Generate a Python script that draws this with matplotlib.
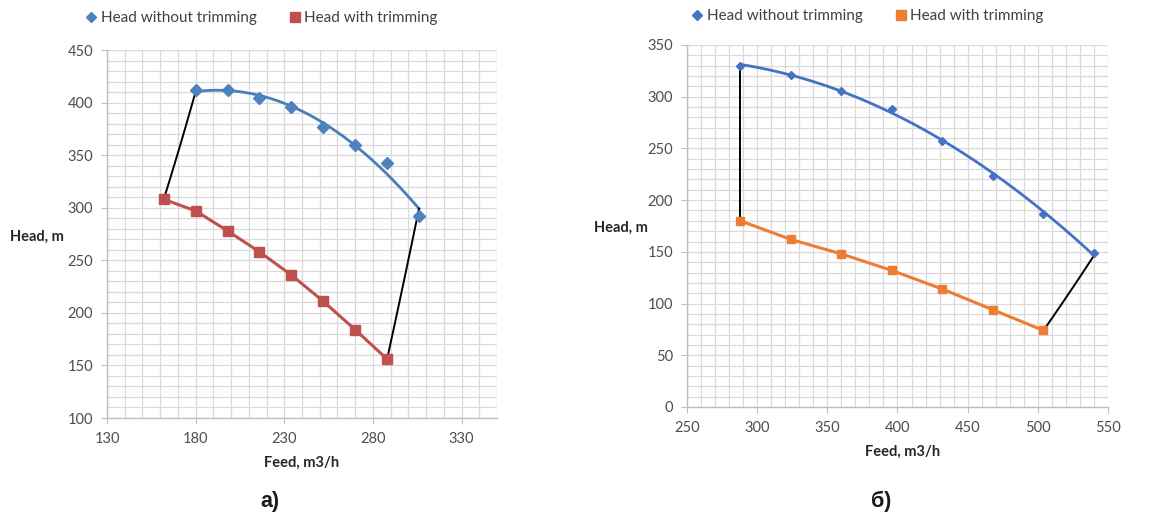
import numpy as np
import matplotlib
matplotlib.use("Agg")
import matplotlib.pyplot as plt
from matplotlib.ticker import MultipleLocator
from matplotlib.lines import Line2D

plt.rcParams['font.family'] = ['Lato', 'DejaVu Sans']

# ---- Panel a) data ----
a_feed_no_trim = [180, 198, 216, 234, 252, 270, 288, 306]
a_head_no_trim = [412, 412, 404, 396, 377, 360, 343, 292]
a_feed_trim = [162, 180, 198, 216, 234, 252, 270, 288]
a_head_trim = [308, 297, 278, 258, 236, 211, 184, 156]

# ---- Panel б) data ----
b_feed_no_trim = [288, 324, 360, 396, 432, 468, 504, 540]
b_head_no_trim = [330, 321, 306, 288, 257, 223, 187, 149]
b_feed_trim = [288, 324, 360, 396, 432, 468, 504]
b_head_trim = [180, 162, 148, 132, 114, 94, 74]

legend_labels = ["Head without trimming", "Head with trimming"]
x_label = "Feed, m3/h"
y_label = "Head, m"
panel_labels = ["а)", "б)"]

W, H = 1153, 513
fig = plt.figure(figsize=(W / 100, H / 100), dpi=100)

TICK_C = "#4D4D4D"
GRID_C = "#D9D9D9"


def connect(ax, q1, h1, q2, h2):
    if abs(q2 - q1) < 1e-9:
        ax.plot([q1, q2], [h1, h2], color="black", lw=1.4, zorder=3)
        return
    a = (h2 - h1) / (q2 ** 2 - q1 ** 2)
    b = h1 - a * q1 ** 2
    q = np.linspace(q1, q2, 50)
    ax.plot(q, a * q ** 2 + b, color="black", lw=1.4, zorder=3)


def panel(rect, fx, fy, tx, ty, xlim, ylim, xmaj, ymaj,
          c_no, c_tr, line_no, ms_d, ms_s):
    ax = fig.add_axes(rect)
    ax.set_xlim(*xlim)
    ax.set_ylim(*ylim)
    ax.xaxis.set_major_locator(MultipleLocator(xmaj))
    ax.yaxis.set_major_locator(MultipleLocator(ymaj))
    ax.xaxis.set_minor_locator(MultipleLocator(10))
    ax.yaxis.set_minor_locator(MultipleLocator(10))
    ax.grid(which="both", color=GRID_C, lw=0.9, zorder=0)
    ax.set_axisbelow(True)
    for s in ["top", "right"]:
        ax.spines[s].set_visible(False)
    for s in ["left", "bottom"]:
        ax.spines[s].set_color("#BFBFBF")
        ax.spines[s].set_linewidth(1.0)
    ax.tick_params(which="major", length=4, color="#BFBFBF", labelcolor=TICK_C,
                   labelsize=10.5, pad=6)
    ax.tick_params(which="minor", length=0)

    # trendline (2nd order polynomial) for the no-trimming series
    coef = np.polyfit(fx, fy, 2)
    qq = np.linspace(fx[0], fx[-1], 200)
    ax.plot(qq, np.polyval(coef, qq), color=line_no, lw=2.0, zorder=2)
    ax.plot(fx, fy, ls="none", marker="D", ms=ms_d, color=c_no, zorder=4)

    # trimmed series
    ax.plot(tx, ty, color=c_tr, lw=2.2, marker="s", ms=ms_s, zorder=4)

    # connecting curves
    connect(ax, tx[0], ty[0], fx[0], np.polyval(coef, fx[0]))
    connect(ax, tx[-1], ty[-1], fx[-1], np.polyval(coef, fx[-1]))
    return ax


axA = panel([107 / W, 1 - 418 / H, 390 / W, 368 / H],
            a_feed_no_trim, a_head_no_trim, a_feed_trim, a_head_trim,
            (130, 350), (100, 450), 50, 50,
            "#4F81BD", "#C0504D", "#4A7EBB", 6, 6.5)
axA.set_xticks([130, 180, 230, 280, 330])

axB = panel([687 / W, 1 - 407 / H, 421 / W, 362 / H],
            b_feed_no_trim, b_head_no_trim, b_feed_trim, b_head_trim,
            (250, 550), (0, 350), 50, 50,
            "#4472C4", "#ED7D31", "#4472C4", 4.5, 5.5)


def legend(cx, cy, c_no, c_tr):
    handles = [Line2D([], [], ls="none", marker="D", ms=5, color=c_no),
               Line2D([], [], ls="none", marker="s", ms=7, color=c_tr)]
    fig.legend(handles, legend_labels, loc="center",
               bbox_to_anchor=(cx / W, 1 - cy / H), ncol=2, frameon=False,
               fontsize=11, handlelength=0.6, handletextpad=0.3,
               columnspacing=2.2, labelcolor="#404040")


legend(262, 18, "#4F81BD", "#C0504D")
legend(868, 16, "#4472C4", "#ED7D31")

lab = dict(fontsize=10.5, fontweight="bold", color="#262626")
fig.text(10 / W, 1 - 237 / H, y_label, ha="left", va="center", **lab)
fig.text(648 / W, 1 - 228 / H, y_label, ha="right", va="center", **lab)
fig.text(302 / W, 1 - 463 / H, x_label, ha="center", va="center", **lab)
fig.text(903 / W, 1 - 452 / H, x_label, ha="center", va="center", **lab)

pl = dict(fontsize=15.5, fontweight="bold", color="#1a1a1a",
          family=["Liberation Sans", "DejaVu Sans"])
fig.text(270 / W, 1 - 501 / H, panel_labels[0], ha="center", va="center", **pl)
fig.text(881 / W, 1 - 501 / H, panel_labels[1], ha="center", va="center", **pl)

fig.savefig("out.png", dpi=100)
